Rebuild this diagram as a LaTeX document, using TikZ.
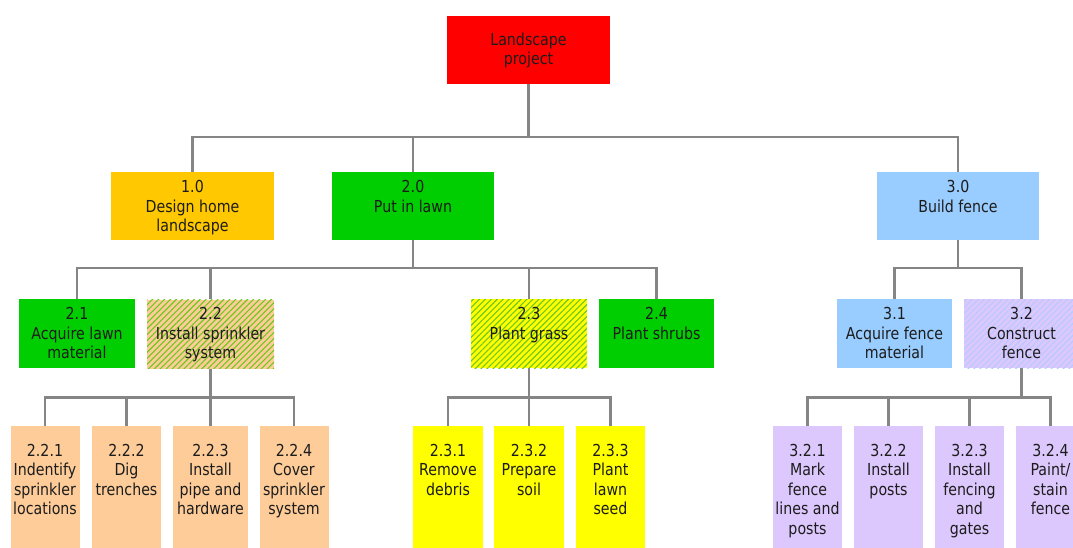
\documentclass[tikz,border=0pt]{standalone}
\usepackage{fontspec}
\setmainfont{DejaVu Sans}[FakeStretch=0.86]
\usetikzlibrary{patterns.meta}
\definecolor{cred}{RGB}{255,0,0}
\definecolor{cgold}{RGB}{255,200,0}
\definecolor{cgreen}{RGB}{0,206,0}
\definecolor{cblue}{RGB}{153,204,255}
\definecolor{cpeach}{RGB}{253,204,153}
\definecolor{cyellow}{RGB}{255,255,0}
\definecolor{clav}{RGB}{220,200,252}
\definecolor{linec}{RGB}{133,133,133}
\definecolor{textc}{RGB}{28,28,28}
\definecolor{hgreen}{RGB}{110,200,30}
\definecolor{hblue}{RGB}{185,200,255}
\tikzset{
  box/.style={rectangle, inner sep=0pt, anchor=north},
  txt/.style={inner sep=0pt, align=center, anchor=north, text=textc,
    font=\fontsize{16.5}{19.5}\selectfont},
  conn/.style={draw=linec, line width=2.6pt},
  hatch/.style 2 args={preaction={fill=#1},
    pattern={Lines[angle=45,distance=4.2pt,line width=1.1pt]}, pattern color=#2},
}
\newcommand\wbsbox[8]{%
  \node[box,#6,minimum width=#4pt,minimum height=#5pt] (#1) at (#2,#3) {};
  \node[txt] (#1-t) at ([yshift=-#7pt]#1.north) {#8};}
\begin{document}
\begin{tikzpicture}[x=1pt,y=-1pt]
\path[use as bounding box] (0,0) rectangle (1073,547);
\clip (0,0) rectangle (1073,547);
% root
\node[box,fill=cred,minimum width=163pt,minimum height=68pt] (root) at (528.5,16) {};
\node[txt,anchor=center] (root-t) at (root.center) {Landscape\\project};
% level 1
\wbsbox{n1}{192.5}{172}{163}{68}{fill=cgold}{8.5}{1.0\\Design home\\landscape}
\wbsbox{n2}{413}{172}{162}{68}{fill=cgreen}{8.5}{2.0\\Put in lawn}
\wbsbox{n3}{958}{172}{162}{68}{fill=cblue}{8.5}{3.0\\Build fence}
% level 2
\wbsbox{n21}{77}{299}{116}{69}{fill=cgreen}{8.5}{2.1\\Acquire lawn\\material}
\wbsbox{n22}{210.5}{299}{127}{69}{hatch={cpeach}{hgreen}}{8.5}{2.2\\Install sprinkler\\system}
\wbsbox{n23}{529}{299}{116}{69}{hatch={cyellow}{hgreen}}{8.5}{2.3\\Plant grass}
\wbsbox{n24}{656.5}{299}{115}{69}{fill=cgreen}{8.5}{2.4\\Plant shrubs}
\wbsbox{n31}{894.5}{299}{115}{69}{fill=cblue}{8.5}{3.1\\Acquire fence\\material}
\wbsbox{n32}{1021.5}{299}{115}{69}{hatch={clav}{hblue}}{8.5}{3.2\\Construct\\fence}
% level 3
\wbsbox{n221}{45}{426}{69}{140}{fill=cpeach}{18}{2.2.1\\Indentify\\sprinkler\\locations}
\wbsbox{n222}{126.5}{426}{69}{140}{fill=cpeach}{18}{2.2.2\\Dig\\trenches}
\wbsbox{n223}{210.5}{426}{75}{140}{fill=cpeach}{18}{2.2.3\\Install\\pipe and\\hardware}
\wbsbox{n224}{294}{426}{69}{140}{fill=cpeach}{18}{2.2.4\\Cover\\sprinkler\\system}
\wbsbox{n231}{448}{426}{70}{140}{fill=cyellow}{18}{2.3.1\\Remove\\debris}
\wbsbox{n232}{529}{426}{70}{140}{fill=cyellow}{18}{2.3.2\\Prepare\\soil}
\wbsbox{n233}{610.5}{426}{69}{140}{fill=cyellow}{18}{2.3.3\\Plant\\lawn\\seed}
\wbsbox{n321}{807.5}{426}{69}{140}{fill=clav}{18}{3.2.1\\Mark\\fence\\lines and\\posts}
\wbsbox{n322}{888.5}{426}{69}{140}{fill=clav}{18}{3.2.2\\Install\\posts}
\wbsbox{n323}{969.5}{426}{69}{140}{fill=clav}{18}{3.2.3\\Install\\fencing\\and\\gates}
\wbsbox{n324}{1050.5}{426}{69}{140}{fill=clav}{18}{3.2.4\\Paint/\\stain\\fence}
% buses
\coordinate (busA) at (0,137);
\coordinate (busB) at (0,268);
\coordinate (busC) at (0,397.5);
\foreach \n in {n1,n2,n3}
  \draw[conn] (root.south) -- (root.south |- busA) -| (\n.north);
\foreach \n in {n21,n22,n23,n24}
  \draw[conn] (n2.south) -- (n2.south |- busB) -| (\n.north);
\foreach \n in {n31,n32}
  \draw[conn] (n3.south) -- (n3.south |- busB) -| (\n.north);
\foreach \n in {n221,n222,n223,n224}
  \draw[conn] (n22.south) -- (n22.south |- busC) -| (\n.north);
\foreach \n in {n231,n232,n233}
  \draw[conn] (n23.south) -- (n23.south |- busC) -| (\n.north);
\foreach \n in {n321,n322,n323,n324}
  \draw[conn] (n32.south) -- (n32.south |- busC) -| (\n.north);
\end{tikzpicture}
\end{document}
